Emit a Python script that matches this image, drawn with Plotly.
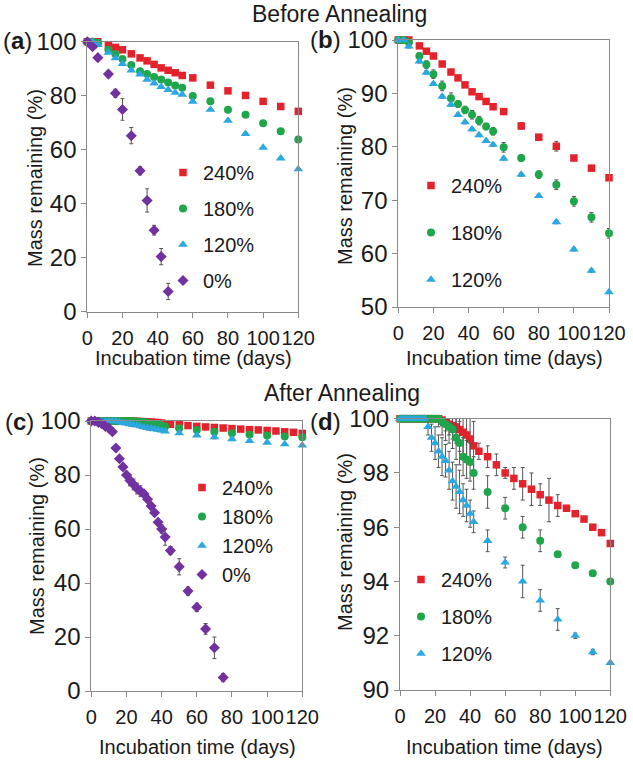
import plotly.graph_objects as go

# ---------------- data ----------------
# Before annealing (panels a, b)
t_before = [0, 3, 6, 12, 16, 20, 25, 30, 34, 38, 42, 46, 50, 54, 60, 70, 80, 90, 100, 110, 120]
before_240 = [100, 100, 100, 98.9, 97.9, 97.0, 95.5, 94.0, 92.9, 91.6, 90.3, 89.4, 88.5, 87.5, 86.6, 83.9, 81.8, 80.1, 77.9, 76.0, 74.2]
before_240_err = [0, 0, 0.2, 0.2, 0.2, 0.2, 0.2, 0.3, 0.2, 0.2, 0.3, 0.2, 0.2, 0.2, 0.2, 0.6, 0.5, 0.9, 0.3, 0.3, 0.3]
before_180 = [100, 100, 99.6, 97.0, 95.4, 93.6, 91.4, 89.1, 88.0, 86.9, 86.0, 84.9, 83.8, 82.9, 79.9, 77.9, 74.8, 72.9, 69.8, 66.8, 63.8]
before_180_err = [0, 0, 0.3, 0.6, 0.7, 0.8, 0.9, 1.0, 0.6, 0.7, 0.8, 0.8, 0.6, 0.7, 0.9, 0.6, 0.7, 0.9, 0.9, 0.9, 0.9]
before_120 = [100, 100, 98.8, 96.0, 93.9, 91.8, 89.4, 87.9, 86.0, 84.6, 83.3, 82.2, 81.1, 80.4, 77.8, 74.8, 70.8, 65.9, 60.8, 56.8, 52.8]
before_120_err = [0, 0, 0.3, 0.3, 0.3, 0.3, 0.3, 0.3, 0.3, 0.3, 0.3, 0.3, 0.3, 0.3, 0.3, 0.3, 0.3, 0.3, 0.3, 0.3, 0.3]
t_before_0 = [0, 3, 6, 12, 16, 20, 25, 30, 34, 38, 42, 46]
before_0 = [100, 98.1, 94.1, 88.0, 80.9, 74.9, 65.2, 52.2, 41.2, 30.2, 20.4, 7.5]
before_0_err = [0.5, 0.5, 0.5, 1.0, 1.5, 4.0, 3.0, 1.5, 4.3, 1.8, 3.0, 3.0]

# After annealing (panels c, d)
t_after_240 = [0, 2, 4, 6, 8, 10, 12, 14, 16, 18, 20, 22, 24, 26, 28, 30, 32, 34, 36, 38, 40, 42,
               45, 50, 55, 60, 65, 70, 75, 80, 85, 90, 95, 100, 105, 110, 115, 120]
after_240 = [100, 100, 100, 100, 100, 100, 100, 100, 100, 100, 100, 100, 99.95, 99.85, 99.8, 99.75, 99.7, 99.6, 99.5, 99.4, 99.25, 99.0,
             98.8, 98.6, 98.3, 98.0, 97.8, 97.6, 97.4, 97.2, 97.0, 96.8, 96.7, 96.5, 96.3, 96.0, 95.8, 95.4]
after_240_err = [0, 0, 0, 0, 0, 0, 0, 0, 0, 0, 0, 0, 0.2, 0.3, 0.4, 0.5, 0.6, 0.8, 0.9, 0.8, 0.9, 0.9,
                 0.3, 0.4, 0.4, 0.2, 0.4, 0.6, 0.6, 0.4, 0.8, 0.4, 0.1, 0.1, 0.1, 0.1, 0.1, 0.1]
t_after = [0, 2, 4, 6, 8, 10, 12, 14, 16, 18, 20, 22, 24, 26, 28, 30, 32, 34, 36, 38, 40, 42,
           50, 60, 70, 80, 90, 100, 110, 120]
after_180 = [100, 100, 100, 100, 100, 100, 100, 100, 100, 100, 100, 100, 99.9, 99.8, 99.7, 99.6, 99.3, 99.1, 98.6, 98.5, 98.4, 98.0,
             97.3, 96.7, 96.0, 95.5, 95.0, 94.6, 94.3, 94.0]
after_180_err = [0, 0, 0, 0, 0, 0, 0, 0, 0, 0, 0, 0.3, 0.5, 0.6, 0.6, 0.7, 0.8, 0.8, 0.7, 0.7, 0.7, 0.6,
                 0.6, 0.4, 0.4, 0.4, 0.1, 0.1, 0.1, 0.1]
after_120 = [100, 100, 100, 100, 100, 100, 100, 100, 99.7, 99.3, 99.1, 98.8, 98.6, 98.45, 98.1, 97.7, 97.5, 97.3, 97.0, 96.8, 96.5, 96.2,
             95.5, 94.7, 94.0, 93.3, 92.6, 92.0, 91.4, 91.0]
after_120_err = [0, 0, 0, 0, 0, 0, 0, 0, 0.3, 0.5, 0.6, 0.6, 0.7, 0.6, 0.7, 0.7, 0.8, 0.8, 0.6, 0.6, 0.5, 0.4,
                 0.4, 0.2, 0.6, 0.4, 0.4, 0.1, 0.1, 0]
t_after_0 = [0, 2, 4, 6, 8, 10, 12, 14, 16, 18, 20, 22, 24, 26, 28, 30, 32, 34, 36, 38, 40, 42,
             45, 50, 55, 60, 65, 70, 75]
after_0 = [100, 100, 99.5, 99.0, 98.0, 97.3, 96.0, 90.0, 86.0, 83.0, 80.0, 78.0, 76.5, 75.0, 74.0, 73.0, 71.0, 68.5, 66.0, 62.5, 60.0, 57.0,
           52.0, 46.0, 37.0, 31.0, 23.0, 16.0, 5.0]
after_0_err = [0.5, 0.5, 0.5, 0.5, 0.5, 0.5, 0.5, 1.0, 1.0, 1.0, 1.0, 2.0, 2.0, 2.0, 2.0, 1.0, 1.0, 1.0, 1.0, 1.0, 1.5, 3.0,
               1.5, 3.0, 1.5, 1.5, 2.0, 4.0, 1.5]

series_names = ["240%", "180%", "120%", "0%"]
x_ticks = [0, 20, 40, 60, 80, 100, 120]
y_ticks_a = [0, 20, 40, 60, 80, 100]
y_ticks_b = [50, 60, 70, 80, 90, 100]
y_ticks_c = [0, 20, 40, 60, 80, 100]
y_ticks_d = [90, 92, 94, 96, 98, 100]

# ---------------- style ----------------
FONT = "Liberation Sans, Arial, sans-serif"
W, H = 633, 764
COL = {"240%": "#e3222b", "180%": "#1fa64b", "120%": "#2ba8e0", "0%": "#7131a1"}
SYM = {"240%": "square", "180%": "circle", "120%": "triangle-up", "0%": "diamond"}
SIZE = {"240%": 7.5, "180%": 8, "120%": 8.5, "0%": 8.5}
AXC = "#8a8a8a"
TXT = "#1a1a1a"


def px(x0, x1):
    return [x0 / W, x1 / W]


def py(top, bottom):
    return [1 - bottom / H, 1 - top / H]


fig = go.Figure()

panels = [
    ("", px(87.3, 298.3), py(41.7, 311.7), [0, 100], y_ticks_a,
     [(t_before, before_240, before_240_err, "240%"), (t_before, before_180, before_180_err, "180%"),
      (t_before, before_120, before_120_err, "120%"), (t_before_0, before_0, before_0_err, "0%")], "legend"),
    ("2", px(398.3, 609.0), py(40.0, 307.0), [50, 100], y_ticks_b,
     [(t_before, before_240, before_240_err, "240%"), (t_before, before_180, before_180_err, "180%"),
      (t_before, before_120, before_120_err, "120%")], "legend2"),
    ("3", px(91.3, 302.3), py(421.0, 691.0), [0, 100], y_ticks_c,
     [(t_after_240, after_240, after_240_err, "240%"), (t_after, after_180, after_180_err, "180%"),
      (t_after, after_120, after_120_err, "120%"), (t_after_0, after_0, after_0_err, "0%")], "legend3"),
    ("4", px(400.0, 610.3), py(418.7, 690.0), [90, 100], y_ticks_d,
     [(t_after_240, after_240, after_240_err, "240%"), (t_after, after_180, after_180_err, "180%"),
      (t_after, after_120, after_120_err, "120%")], "legend4"),
]

layout_axes = {}
for suffix, xd, yd, yr, yt, series, leg in panels:
    for tx, vy, ey, name in series:
        fig.add_trace(go.Scatter(
            x=tx, y=vy, mode="markers", name=name,
            xaxis="x" + suffix, yaxis="y" + suffix,
            legend=leg, legendgroup=leg + name,
            cliponaxis=False,
            marker=dict(symbol=SYM[name], color=COL[name], size=SIZE[name], line=dict(width=0)),
            error_y=dict(type="data", array=ey, visible=True, color="#555555", thickness=1, width=2),
        ))
    common = dict(showline=True, linecolor=AXC, linewidth=1, mirror=True, ticks="outside",
                  ticklen=5, tickcolor=AXC, showgrid=False, zeroline=False, automargin=False,
                  tickangle=0)
    layout_axes["xaxis" + suffix] = dict(domain=xd, range=[0, 120], tickvals=x_ticks,
                                         anchor="y" + suffix, ticklabelstandoff=3,
                                         tickfont=dict(family=FONT, size=20, color=TXT), **common)
    layout_axes["yaxis" + suffix] = dict(domain=yd, range=yr, tickvals=yt, anchor="x" + suffix,
                                         tickfont=dict(family=FONT, size=24, color=TXT), **common)

legend_common = dict(font=dict(family=FONT, size=20, color=TXT), bgcolor="rgba(0,0,0,0)",
                     xanchor="left", yanchor="top", itemwidth=30, borderwidth=0)
legends = {
    "legend": dict(x=163 / W, y=1 - 153 / H, tracegroupgap=7, **legend_common),
    "legend2": dict(x=411 / W, y=1 - 166 / H, tracegroupgap=18, **legend_common),
    "legend3": dict(x=182 / W, y=1 - 468 / H, tracegroupgap=0, **legend_common),
    "legend4": dict(x=401 / W, y=1 - 560 / H, tracegroupgap=8, **legend_common),
}

ann = []


def text(x, y, s, size, angle=0):
    ann.append(dict(x=x / W, y=1 - y / H, xref="paper", yref="paper", text=s,
                    showarrow=False, textangle=angle, xanchor="center", yanchor="middle",
                    font=dict(family=FONT, size=size, color=TXT)))


text(339, 14, "Before Annealing", 23)
text(342, 393, "After Annealing", 23)
text(17, 41, "(<b>a</b>)", 24)
text(325, 40, "(<b>b</b>)", 24)
text(19, 421, "(<b>c</b>)", 24)
text(325, 421, "(<b>d</b>)", 24)
for cx, cy in [(193, 358), (504, 358), (197, 747), (505, 747)]:
    text(cx, cy, "Incubation time (days)", 20)
for cx, cy in [(35, 178), (345, 176), (37, 546), (345, 542)]:
    text(cx, cy, "Mass remaining (%)", 20, angle=-90)

fig.update_layout(
    width=W, height=H, margin=dict(l=0, r=0, t=0, b=0, autoexpand=False),
    paper_bgcolor="white", plot_bgcolor="white",
    showlegend=True, annotations=ann, **layout_axes, **legends,
)

fig.write_html("out.html", config={"displayModeBar": False},
               post_script="document.body.style.margin='0px';")
